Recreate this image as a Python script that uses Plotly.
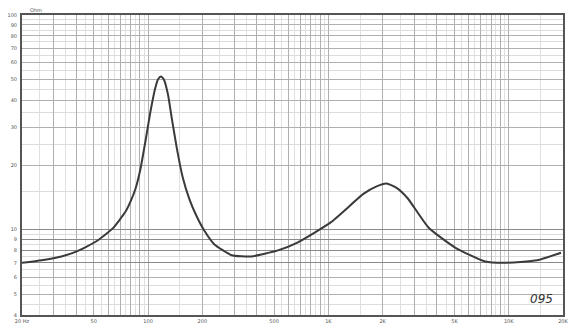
import numpy as np
import plotly.graph_objects as go

# Impedance curve
freq_hz = [20, 25.7, 33.1, 40, 51.5, 63.5, 74.9, 79.9, 85.2, 90.7, 96.4, 102.7,
           109.3, 113.5, 117.9, 122.4, 128.8, 135.4, 144.2, 155.5, 169.9, 185.4,
           205, 232.7, 291, 374, 525, 673, 1030, 1570, 1850, 2100, 2400, 2750,
           3600, 5100, 7400, 9400, 14400, 19500]
impedance_ohm = [7.0, 7.2, 7.5, 7.9, 8.8, 10.1, 12.1, 13.5, 15.5, 19.1, 25.4, 34.8,
                 45.2, 50.1, 51.7, 50.1, 42.9, 33.0, 24.1, 17.6, 13.8, 11.6,
                 9.9, 8.55, 7.6, 7.5, 8.0, 8.7, 10.8, 14.7, 15.9, 16.4, 15.6, 14.0,
                 10.2, 8.2, 7.1, 7.0, 7.2, 7.8]

x_tick_vals = [20, 50, 100, 200, 500, 1000, 2000, 5000, 10000, 20000]
x_tick_text = ["20 Hz", "50", "100", "200", "500", "1K", "2K", "5K", "10K", "20K"]
y_tick_vals = [4, 5, 6, 7, 8, 9, 10, 20, 30, 40, 50, 60, 70, 80, 90, 100]
y_tick_text = [str(v) for v in y_tick_vals]
y_dark_vals = [7, 8, 9, 10]

x_major_grid = [m * d for d in (10, 100, 1000, 10000) for m in range(1, 10) if 20 <= m * d <= 20000]
x_minor_grid = [(m + 0.5) * d for d in (10, 100, 1000, 10000) for m in range(1, 10) if 20 <= (m + 0.5) * d <= 20000]
y_minor_grid = [v / 2 for v in range(8, 20)] + [v for v in range(15, 100, 10)]

fig = go.Figure()
fig.add_trace(go.Scatter(x=freq_hz, y=impedance_ohm, mode="lines",
                         line=dict(color="#3a3a3a", width=2, shape="spline", smoothing=0.5),
                         showlegend=False, hoverinfo="skip"))
# invisible trace to anchor overlay axis
fig.add_trace(go.Scatter(x=[20], y=[7], yaxis="y2", mode="lines", showlegend=False,
                         line=dict(width=0), hoverinfo="skip"))

tick_font = dict(family="DejaVu Sans", size=5, color="#555")
fig.update_layout(
    width=576, height=331,
    margin=dict(l=20, r=7, t=15, b=9),
    paper_bgcolor="white", plot_bgcolor="white",
    xaxis=dict(type="log", range=[np.log10(20), np.log10(20000)],
               tickmode="array", tickvals=x_major_grid,
               ticktext=[x_tick_text[x_tick_vals.index(v)] if v in x_tick_vals else "" for v in x_major_grid],
               tickfont=tick_font, ticks="", ticklabelstandoff=0,
               showgrid=True, gridcolor="#b0b0b0", gridwidth=1,
               minor=dict(tickmode="array", tickvals=x_minor_grid, showgrid=True,
                          gridcolor="#e0e0e0", gridwidth=1, ticks=""),
               showline=True, linecolor="#555", linewidth=2, mirror=True, zeroline=False),
    yaxis=dict(type="log", range=[np.log10(4), 2],
               tickmode="array", tickvals=y_tick_vals, ticktext=y_tick_text,
               tickfont=tick_font, ticks="", ticklabelstandoff=2,
               showgrid=True, gridcolor="#b0b0b0", gridwidth=1,
               minor=dict(tickmode="array", tickvals=y_minor_grid, showgrid=True,
                          gridcolor="#dcdcdc", gridwidth=1, ticks=""),
               showline=True, linecolor="#555", linewidth=2, mirror=True, zeroline=False),
    yaxis2=dict(type="log", range=[np.log10(4), 2], overlaying="y", side="right",
                tickmode="array", tickvals=y_dark_vals, showticklabels=False,
                showgrid=True, gridcolor="#8a8a8a", gridwidth=1.2, ticks="",
                showline=False, zeroline=False),
    annotations=[
        dict(text="Ohm", xref="paper", yref="paper", x=0.012, y=1.0, xanchor="left",
             yanchor="bottom", showarrow=False, font=dict(family="DejaVu Sans", size=5, color="#555")),
        dict(text="<i>095</i>", xref="paper", yref="paper", x=0.985, y=0.025, xanchor="right",
             yanchor="bottom", showarrow=False, font=dict(family="DejaVu Sans", size=12, color="#333")),
    ],
)
fig.write_html("out.html")
